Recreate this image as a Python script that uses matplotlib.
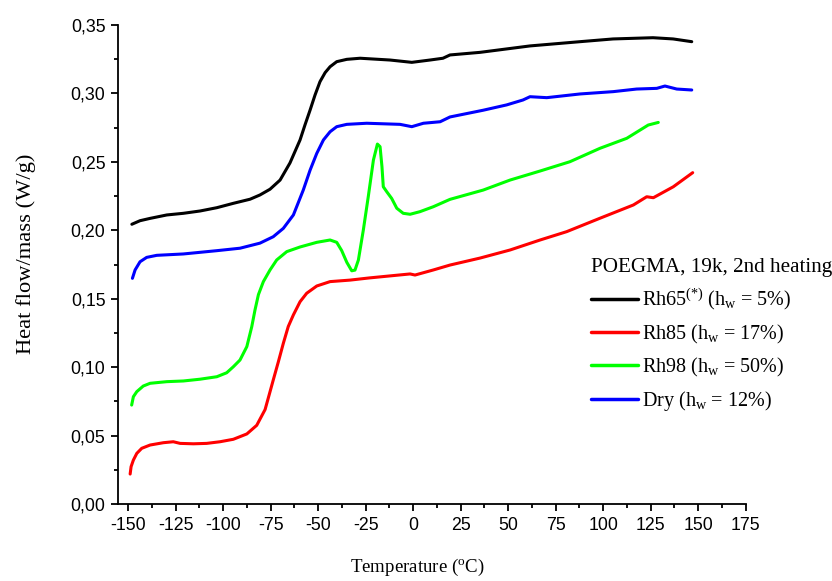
import numpy as np
import matplotlib
matplotlib.use("Agg")
import matplotlib.pyplot as plt
from matplotlib.ticker import MultipleLocator, FuncFormatter

plt.rcParams['font.family'] = 'Liberation Serif'
plt.rcParams['mathtext.fontset'] = 'custom'
plt.rcParams['mathtext.rm'] = 'Liberation Serif'
plt.rcParams['mathtext.it'] = 'Liberation Serif:italic'
plt.rcParams['axes.unicode_minus'] = False

# Rh65 (black)
t_rh65 = [-148.0, -143.7, -138.4, -129.6, -120.9, -112.1, -103.3, -94.6, -85.8, -80.6, -75.3, -70.0,
          -64.8, -59.5, -56.9, -54.2, -51.6, -49.0, -46.3, -43.7, -40.2, -34.9,
          -27.9, -12.2, -0.7, 8.9, 15.7, 19.4, 35.2, 61.5, 87.8, 105.2, 126.2, 136.8, 146.6]
v_rh65 = [0.2044, 0.2070, 0.2087, 0.2112, 0.2124, 0.2141, 0.2165, 0.2197, 0.2227, 0.2258, 0.2300, 0.2367,
          0.2492, 0.2660, 0.2770, 0.2879, 0.2989, 0.3086, 0.3152, 0.3195, 0.3232, 0.3249,
          0.3257, 0.3244, 0.3227, 0.3244, 0.3257, 0.3281, 0.3300, 0.3347, 0.3378, 0.3398, 0.3407, 0.3398, 0.3378]

# Rh85 (red)
t_rh85 = [-148.9, -148.4, -147.2, -145.4, -142.8, -138.4, -131.4, -126.2, -122.6, -115.6, -108.6,
          -101.6, -94.6, -87.5, -82.3, -77.9, -76.2, -73.6, -70.9, -68.3, -65.7, -63.0, -59.5,
          -56.0, -50.7, -43.7, -33.2, -23.0, -1.6, 1.0, 10.6, 19.4, 35.2, 51.0,
          66.8, 80.8, 98.3, 115.9, 122.9, 126.4, 136.9, 147.1]
v_rh85 = [0.0219, 0.0273, 0.0321, 0.0370, 0.0407, 0.0431, 0.0448, 0.0455, 0.0443, 0.0440, 0.0443,
          0.0455, 0.0473, 0.0512, 0.0575, 0.0690, 0.0775, 0.0906, 0.1040, 0.1174, 0.1297, 0.1382, 0.1478,
          0.1540, 0.1593, 0.1625, 0.1636, 0.1652, 0.1681, 0.1673, 0.1710, 0.1746, 0.1797, 0.1856,
          0.1929, 0.1990, 0.2088, 0.2185, 0.2245, 0.2238, 0.2318, 0.2421]

# Rh98 (green)
t_rh98 = [-148.1, -147.2, -145.4, -142.0, -138.4, -129.6, -120.9, -112.1, -103.3, -98.1, -94.6,
          -91.1, -87.5, -84.9, -83.2, -81.4, -78.8, -75.3, -71.8, -66.5, -59.5, -50.7, -43.7,
          -40.2, -37.6, -34.9, -32.3, -30.6, -28.8, -26.2, -23.6, -20.9, -18.8, -17.4, -16.4,
          -15.7, -13.9, -11.3, -8.6, -5.2, -1.6, 3.6, 10.6, 19.4, 36.9, 51.0, 66.8, 82.5,
          98.3, 112.4, 123.7, 129.0]
v_rh98 = [0.0723, 0.0784, 0.0821, 0.0862, 0.0882, 0.0894, 0.0899, 0.0912, 0.0930, 0.0959, 0.1003,
          0.1052, 0.1150, 0.1296, 0.1418, 0.1530, 0.1625, 0.1710, 0.1783, 0.1844, 0.1878, 0.1912, 0.1929,
          0.1912, 0.1852, 0.1766, 0.1704, 0.1709, 0.1783, 0.2002, 0.2246, 0.2513, 0.2630, 0.2611, 0.2465,
          0.2318, 0.2282, 0.2233, 0.2161, 0.2124, 0.2117, 0.2136, 0.2172, 0.2226, 0.2294, 0.2367, 0.2433, 0.2501,
          0.2599, 0.2672, 0.2769, 0.2788]

# Dry (blue)
t_dry = [-147.7, -146.3, -143.7, -140.2, -134.9, -120.9, -103.3, -91.1, -80.6, -73.6, -68.3, -63.0,
         -57.8, -54.2, -50.7, -47.2, -43.7, -40.2, -34.9,
         -24.4, -6.9, -0.7, 5.4, 14.2, 19.4, 36.8, 49.2, 57.8, 61.5, 70.3, 87.8, 105.3, 117.6,
         128.2, 132.5, 138.7, 146.6]
v_dry = [0.1649, 0.1710, 0.1770, 0.1802, 0.1817, 0.1827, 0.1851, 0.1869, 0.1906, 0.1953, 0.2014, 0.2112,
         0.2294, 0.2440, 0.2562, 0.2660, 0.2720, 0.2757, 0.2774,
         0.2782, 0.2774, 0.2757, 0.2782, 0.2793, 0.2828, 0.2877, 0.2916, 0.2952, 0.2976, 0.2969, 0.2996, 0.3013, 0.3032,
         0.3037, 0.3054, 0.3032, 0.3025]

labels = ["Rh65$^{(*)}$ (h$_\\mathrm{w}$ = 5%)", "Rh85 (h$_\\mathrm{w}$ = 17%)",
          "Rh98 (h$_\\mathrm{w}$ = 50%)", "Dry (h$_\\mathrm{w}$ = 12%)"]
colors = ["#000000", "#ff0000", "#00ff00", "#0000ff"]

fig = plt.figure(figsize=(8.32, 5.81), dpi=100)
ax = fig.add_axes([0.1418, 0.1325, 0.7545, 0.8245])

series = [(t_rh65, v_rh65), (t_rh85, v_rh85), (t_rh98, v_rh98), (t_dry, v_dry)]
for (t, v), lab, c in zip(series, labels, colors):
    ax.plot(t, v, color=c, lw=2.2, label=lab, solid_capstyle='round', solid_joinstyle='round')

ax.set_xlim(-155.3, 175)
ax.set_ylim(0, 0.35)
ax.xaxis.set_major_locator(MultipleLocator(25))
ax.xaxis.set_minor_locator(MultipleLocator(12.5))
ax.yaxis.set_major_locator(MultipleLocator(0.05))
ax.yaxis.set_minor_locator(MultipleLocator(0.025))
ax.yaxis.set_major_formatter(FuncFormatter(lambda v, p: ("%.2f" % v).replace(".", ",")))

for s in ["top", "right"]:
    ax.spines[s].set_visible(False)
for s in ["left", "bottom"]:
    ax.spines[s].set_linewidth(1.3)
ax.tick_params(which="major", direction="out", length=5, width=1.3, labelsize=12.8, pad=4)
ax.tick_params(which="minor", direction="out", length=3, width=1.3)
for lbl in ax.get_xticklabels() + ax.get_yticklabels():
    lbl.set_family("Liberation Sans")

ax.set_xlabel("Temperature ($^\\mathrm{o}$C)", fontsize=13.6, labelpad=17)
ax.xaxis.label.set_x(0.477)
ax.set_ylabel("Heat flow/mass (W/g)", fontsize=16.2, labelpad=25)
ax.yaxis.label.set_y(0.523)

leg = ax.legend(loc="upper left", bbox_to_anchor=(0.737, 0.535), frameon=False,
                title="POEGMA, 19k, 2nd heating", fontsize=14.5, title_fontsize=15.2,
                handlelength=2.35, handletextpad=0.2, labelspacing=0.5, alignment="left",
                borderpad=0)
for line in leg.get_lines():
    line.set_linewidth(2.5)

fig.savefig("out.png", dpi=100)
